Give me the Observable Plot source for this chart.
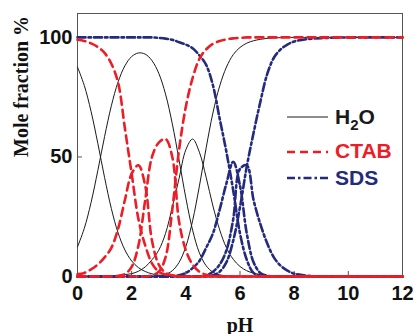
<!DOCTYPE html>
<html>
<head>
<meta charset="utf-8">
<script src="https://cdn.jsdelivr.net/npm/d3@7"></script>
<script src="https://cdn.jsdelivr.net/npm/@observablehq/plot@0.6"></script>
<style>
  html, body { margin: 0; padding: 0; background: white; }
  #wrap { position: relative; width: 414px; height: 334px; }
  #legend { position: absolute; left: 0; top: 0; pointer-events: none; }
</style>
</head>
<body>
<div id="wrap"></div>
<script>
// pH grid
const pH = [0,0.25,0.5,0.75,1,1.25,1.5,1.75,2,2.25,2.5,2.75,3,3.25,3.5,3.75,4,4.25,4.5,4.75,5,5.25,5.5,5.75,6,6.25,6.5,6.75,7,7.25,7.5,7.75,8,8.5,9,10,11,12];

// H2O (black solid)
const h2o_H3A = [87.6,79.9,69.1,55.7,41.4,28.4,18.2,11.1,6.5,3.7,2.1,1.1,0.6,0.3,0.1,0,0,0,0,0,0,0,0,0,0,0,0,0,0,0,0,0,0,0,0,0,0,0];
const h2o_H2A = [12.4,20.1,30.9,44.3,58.5,71.4,81.4,88.1,92.0,93.5,93.0,90.3,85.0,76.3,63.9,48.7,32.9,19.4,9.9,4.5,1.8,0.7,0.2,0,0,0,0,0,0,0,0,0,0,0,0,0,0,0];
const h2o_HA  = [0,0,0,0,0.1,0.2,0.4,0.8,1.2,2.2,4,7,11,18,29,41,53,57.5,52,41.5,29.5,19.5,12,7.2,4.2,2.4,1.4,0.8,0.4,0.2,0.1,0,0,0,0,0,0,0];
const h2o_A   = [0,0,0,0,0,0,0,0,0,0,0,0,0.3,0.9,2.4,5.9,12.5,23.3,37.8,53.8,68.4,79.7,87.6,92.8,95.8,97.6,98.6,99.2,99.6,99.8,99.9,100,100,100,100,100,100,100];

// CTAB (red dashed)
const ctab_H3A = [99,98.5,97.5,96,93.5,89,81,62,43,24,13,5.5,2,0.8,0.3,0,0,0,0,0,0,0,0,0,0,0,0,0,0,0,0,0,0,0,0,0,0,0];
const ctab_H2A = [1,1.5,3,5,8,12,20,32,43,46.5,38,15,5,1.5,0.5,0,0,0,0,0,0,0,0,0,0,0,0,0,0,0,0,0,0,0,0,0,0,0];
const ctab_HA  = [0,0,0,0,0,0,0.3,1,4,13,32,50,56,57.5,50,23,11,5,2,0.7,0.2,0,0,0,0,0,0,0,0,0,0,0,0,0,0,0,0,0];
const ctab_A   = [0,0,0,0,0,0,0,0,0,0,0,0.5,2,8,28,53,71,83,91,95,97.3,98.5,99.2,99.6,99.8,100,100,100,100,100,100,100,100,100,100,100,100,100];

// SDS (navy dash-dot)
const sds_H3A = [100,100,100,100,100,100,100,100,100,100,100,100,99.8,99.5,99,98,97,95.5,92.5,88.5,80,66,52,36,18,7,1.5,0.3,0,0,0,0,0,0,0,0,0,0];
const sds_H2A = [0,0,0,0,0,0,0,0,0,0,0,0,0,0,0,0.5,1.5,3.5,6.5,12,18,28,39,48,38,18,6,1.5,0.3,0,0,0,0,0,0,0,0,0];
const sds_HA  = [0,0,0,0,0,0,0,0,0,0,0,0,0,0,0,0,0,0,0,0.5,2,5,11,24,45,46.5,32,22,14,8,4.5,2.5,1.2,0.3,0,0,0,0];
const sds_A   = [0,0,0,0,0,0,0,0,0,0,0,0,0,0,0,0,0,0,0,0,0.5,2,6,15,29,46,60,73,84.5,91.5,95,97,98.3,99.3,99.7,100,100,100];

const xTicks = [0,2,4,6,8,10,12];
const yTicks = [0,50,100];

const groups = [
  {name: "H2O", color: "#1a1a1a", width: 1, dash: null, series: [h2o_H3A, h2o_H2A, h2o_HA, h2o_A]},
  {name: "SDS", color: "#242b7d", width: 2.6, dash: "8,3,2.5,3", series: [sds_H3A, sds_H2A, sds_HA, sds_A]},
  {name: "CTAB", color: "#ee1d25", width: 2.6, dash: "8,5", series: [ctab_H3A, ctab_H2A, ctab_HA, ctab_A]}
];

const rows = [];
groups.forEach(g => g.series.forEach((s, k) => s.forEach((v, i) => rows.push({pH: pH[i], value: v, key: g.name + k, group: g.name}))));

const lineMarks = groups.map(g => Plot.line(rows.filter(r => r.group === g.name), {
  x: "pH", y: "value", z: "key", stroke: g.color, strokeWidth: g.width,
  strokeDasharray: g.dash, curve: "catmull-rom"
}));

const W = 414, H = 334, mL = 77, mR = 12, mT = 13, mB = 58;

const chart = Plot.plot({
  width: W, height: H,
  marginLeft: mL, marginRight: mR, marginTop: mT, marginBottom: mB,
  x: {domain: [0, 12]},
  y: {domain: [0, 110]},
  style: {fontFamily: "'Liberation Sans', Arial, sans-serif", fontSize: "20px", fontWeight: "bold", color: "#111", background: "white"},
  marks: [
    Plot.frame({stroke: "#555"}),
    Plot.tickX(xTicks, {x: d => d, insetTop: H - mT - mB - 5, stroke: "#555"}),
    Plot.tickY(yTicks, {y: d => d, insetRight: W - mL - mR - 5, stroke: "#555"}),
    Plot.axisX({ticks: xTicks, tickSize: 0, tickPadding: 9, label: null, tickFormat: d => String(d)}),
    Plot.axisY({ticks: yTicks, tickSize: 0, tickPadding: 5, label: null, tickFormat: d => String(d)}),
    ...lineMarks,
    Plot.text(["Mole fraction %"], {frameAnchor: "left", rotate: -90, dx: -50, dy: 12, lineAnchor: "bottom",
      fontFamily: "'Liberation Serif', 'Times New Roman', serif", fontWeight: "bold", fontSize: 20, fill: "#111"}),
    Plot.text(["pH"], {frameAnchor: "bottom", dy: 55, lineAnchor: "bottom",
      fontFamily: "'Liberation Serif', 'Times New Roman', serif", fontWeight: "bold", fontSize: 20, fill: "#111"})
  ]
});

const wrap = document.getElementById("wrap");
wrap.appendChild(chart);

// Legend overlay
const legendItems = [
  {label: "H2O", color: "#1a1a1a", width: 1, dash: null, ly: 117, ty: 124},
  {label: "CTAB", color: "#ee1d25", width: 2.6, dash: "8,5", ly: 152, ty: 158},
  {label: "SDS", color: "#242b7d", width: 2.6, dash: "8,3,2.5,3", ly: 178, ty: 185}
];
const lg = d3.select(wrap).append("svg").attr("id", "legend").attr("width", W).attr("height", H);
legendItems.forEach(it => {
  lg.append("line").attr("x1", 287).attr("x2", 328).attr("y1", it.ly).attr("y2", it.ly)
    .attr("stroke", it.color).attr("stroke-width", it.width).attr("stroke-dasharray", it.dash);
  const t = lg.append("text").attr("x", 335).attr("y", it.ty).attr("fill", it.color)
    .attr("font-family", "'Liberation Sans', Arial, sans-serif").attr("font-weight", "bold").attr("font-size", 21);
  if (it.label === "H2O") {
    t.append("tspan").text("H");
    t.append("tspan").attr("dy", 6).attr("font-size", 15).text("2");
    t.append("tspan").attr("dy", -6).text("O");
  } else {
    t.text(it.label);
  }
});
</script>
</body>
</html>
